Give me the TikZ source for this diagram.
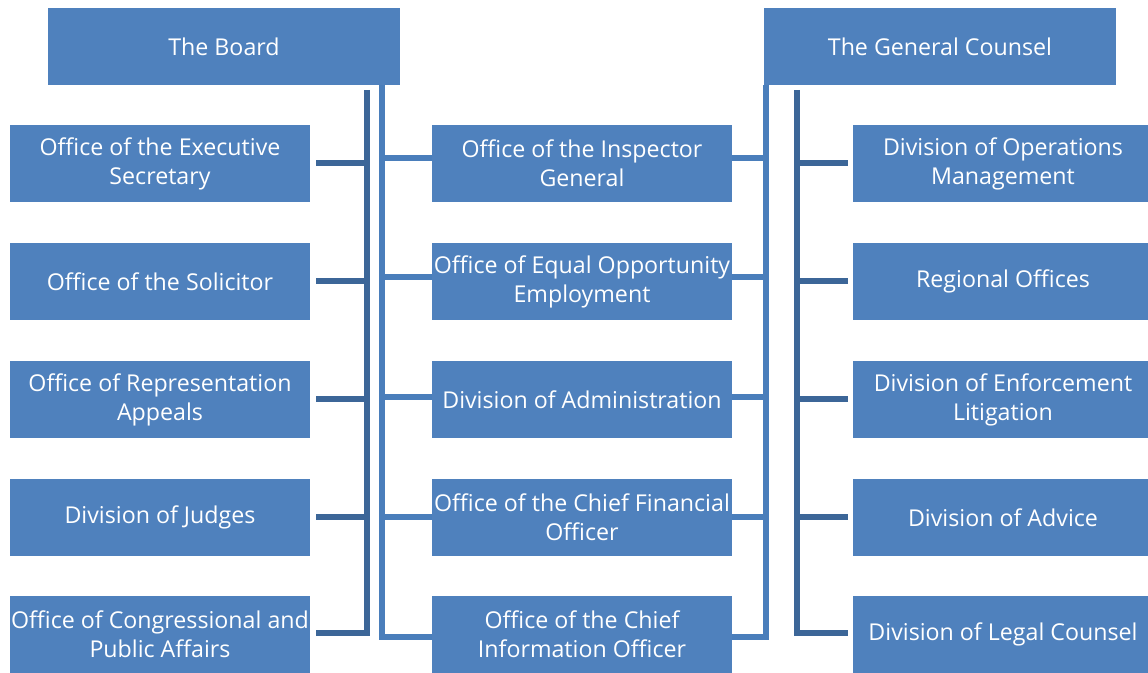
\documentclass[tikz,border=0pt]{standalone}
\usepackage{fontspec}
\setmainfont{Open Sans}
\definecolor{boxblue}{HTML}{4F81BD}
\definecolor{darkline}{HTML}{3C6698}
\definecolor{lightline}{HTML}{4A7EBB}
\tikzset{
  unit/.style={fill=boxblue,text=white,align=center,inner sep=0pt,
    minimum width=150pt,minimum height=38.5pt,font=\fontsize{11.6}{14.5}\selectfont,
    execute at begin node={\vspace*{3pt}}},
  head/.style={unit,minimum width=176pt},
  darkbar/.style={draw=darkline,line width=3pt},
  lightbar/.style={draw=lightline,line width=3pt},
}
\begin{document}
\begin{tikzpicture}[x=0.5pt,y=-0.5pt]
\useasboundingbox (0,0) rectangle (1148,673);
\node[head] (board) at (224,46.5) {The Board};
\node[head] (counsel) at (940,46.5) {The General Counsel};
% the Board's offices
\node[unit] (exec) at (160,163.5) {Office of the Executive\\Secretary};
\node[unit] (sol) at (160,281.5) {Office of the Solicitor};
\node[unit] (rep) at (160,399.5) {Office of Representation\\Appeals};
\node[unit] (judges) at (160,517.5) {Division of Judges};
\node[unit] (cong) at (160,634.5) {Office of Congressional and\\Public Affairs};
% shared offices
\node[unit] (ig) at (582,163.5) {Office of the Inspector\\General};
\node[unit] (eeo) at (582,281.5) {Office of Equal Opportunity\\Employment};
\node[unit] (adm) at (582,399.5) {Division of Administration};
\node[unit] (cfo) at (582,517.5) {Office of the Chief Financial\\Officer};
\node[unit] (cio) at (582,634.5) {Office of the Chief\\Information Officer};
% the General Counsel's divisions
\node[unit] (ops) at (1003,163.5) {Division of Operations\\Management};
\node[unit] (reg) at (1003,281.5) {Regional Offices};
\node[unit] (enf) at (1003,399.5) {Division of Enforcement\\Litigation};
\node[unit] (adv) at (1003,517.5) {Division of Advice};
\node[unit] (legal) at (1003,634.5) {Division of Legal Counsel};
% trunks
\coordinate (ldtop) at (367,90);
\coordinate (lltop) at (382,85);
\coordinate (rltop) at (766,85);
\coordinate (rdtop) at (797,90);
\draw[darkbar] (ldtop) |- ([xshift=3pt,yshift=0.75pt]cong.east);
\draw[lightbar] (lltop) |- ([yshift=-1.25pt]cio.west);
\draw[lightbar] (rltop) |- ([yshift=-1.25pt]cio.east);
\draw[darkbar] (rdtop) |- ([xshift=-2.5pt,yshift=0.75pt]legal.west);
\foreach \l/\r in {exec/ops,sol/reg,rep/enf,judges/adv} {
  \draw[darkbar] ([xshift=3pt]\l.east) -- (\l.east -| ldtop);
  \draw[darkbar] ([xshift=-2.5pt]\r.west) -- (\r.west -| rdtop);
}
\foreach \m/\s in {ig/2.75,eeo/2.25,adm/1.25,cfo/0.25} {
  \draw[lightbar] ([yshift=\s pt]\m.west) -- ([yshift=\s pt]\m.west -| lltop);
  \draw[lightbar] ([yshift=\s pt]\m.east) -- ([yshift=\s pt]\m.east -| rltop);
}
\end{tikzpicture}
\end{document}
